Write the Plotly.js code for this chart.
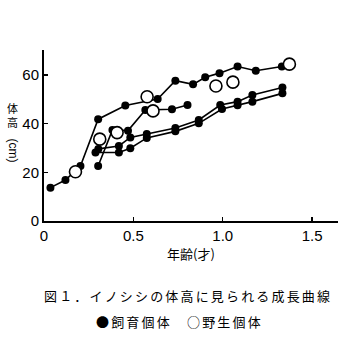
<!DOCTYPE html>
<html>
<head>
<meta charset="utf-8">
<script src="https://cdn.plot.ly/plotly-3.0.1.min.js"></script>
<style>html,body{margin:0;padding:0;background:#fff;}#chart{width:353px;height:360px;}</style>
</head>
<body>
<div id="chart"></div>
<script>
// Captive (飼育) individuals: four growth series
const seriesAAge = [0.036, 0.12, 0.204, 0.303, 0.455, 0.636, 0.735, 0.834, 0.902, 0.982, 1.083, 1.185, 1.331];
const seriesAHeight = [13.7, 16.8, 22.6, 41.8, 47.4, 50.1, 57.6, 56.1, 59.0, 60.7, 63.4, 61.7, 63.4];
const seriesBAge = [0.303, 0.383, 0.470, 0.567, 0.716, 0.803];
const seriesBHeight = [22.6, 37.4, 37.1, 45.6, 45.9, 47.6];
const seriesCAge = [0.304, 0.419, 0.483, 0.575, 0.735, 0.866, 0.986, 1.083, 1.166, 1.334];
const seriesCHeight = [29.6, 30.8, 34.3, 35.7, 38.2, 41.5, 47.6, 49.0, 51.7, 54.8];
const seriesDAge = [0.288, 0.419, 0.483, 0.575, 0.735, 0.866, 0.996, 1.083, 1.166, 1.334];
const seriesDHeight = [28.1, 28.1, 29.9, 34.1, 36.8, 40.1, 46.0, 47.5, 49.0, 52.4];
// Wild (野生) individuals
const wildAge = [0.176, 0.312, 0.409, 0.577, 0.610, 0.962, 1.057, 1.373];
const wildHeight = [20.2, 33.6, 36.3, 51.0, 45.2, 55.4, 57.0, 64.4];
// Ticks
const xTickVals = [0, 0.5, 1.0, 1.5];
const xTickText = ['0', '0.5', '1.0', '1.5'];
const yTickVals = [0, 20, 40, 60];
const yTickText = ['0', '20', '40', '60'];

const captive = [[seriesAAge, seriesAHeight], [seriesBAge, seriesBHeight], [seriesCAge, seriesCHeight], [seriesDAge, seriesDHeight]];
const traces = captive.map(([x, y]) => ({
  x: x, y: y, type: 'scatter', mode: 'lines+markers',
  line: {color: '#000', width: 1.6},
  marker: {color: '#000', size: 8},
  showlegend: false, hoverinfo: 'skip'
}));
traces.push({
  x: wildAge, y: wildHeight, type: 'scatter', mode: 'markers',
  marker: {color: '#fff', size: 12, line: {color: '#000', width: 1.6}},
  showlegend: false, hoverinfo: 'skip'
});

const tickFont = {family: '"Liberation Sans Narrow", "Liberation Sans", Arial, sans-serif', size: 15, color: '#000'};
const cjk = '"Noto Sans CJK JP", "Noto Sans", sans-serif';
const sp = '\u2006';
const caption1 = '図１．イノシシの体高に見られる成長曲線'.split('').join(sp);
const caption2 = '●飼育個体　○野生個体'.split('').join(sp);

const layout = {
  width: 353, height: 360,
  margin: {l: 44, r: 15, t: 50, b: 139},
  paper_bgcolor: '#fff', plot_bgcolor: '#fff',
  xaxis: {
    range: [0, 1.645], showgrid: false, zeroline: false,
    showline: true, linecolor: '#000', linewidth: 2,
    ticks: 'inside', ticklen: 4, tickwidth: 1.5, tickcolor: '#000',
    tickvals: xTickVals, ticktext: xTickText, tickfont: tickFont,
    title: {text: '年齢(才)', font: {family: cjk, size: 13, color: '#000'}, standoff: 4}
  },
  yaxis: {
    range: [0, 70.2], showgrid: false, zeroline: false,
    showline: true, linecolor: '#000', linewidth: 2,
    ticks: 'inside', ticklen: 4, tickwidth: 1.5, tickcolor: '#000',
    tickvals: yTickVals, ticktext: yTickText, tickfont: tickFont
  },
  annotations: [
    {text: '体<br>高', xref: 'paper', yref: 'paper', x: -0.107, y: 0.715, xanchor: 'center', yanchor: 'top',
     borderpad: 0, showarrow: false, font: {family: cjk, size: 11, color: '#000'}},
    {text: '(cm)', xref: 'paper', yref: 'paper', x: -0.107, y: 0.415, xanchor: 'center', yanchor: 'middle',
     borderpad: 0, textangle: 90, showarrow: false, font: {family: '"Liberation Sans", sans-serif', size: 12, color: '#000'}},
    {text: caption1, xref: 'paper', yref: 'paper', x: 0.485, y: -0.433, xanchor: 'center', yanchor: 'middle',
     showarrow: false, font: {family: cjk, size: 13, color: '#000'}},
    {text: caption2, xref: 'paper', yref: 'paper', x: 0.459, y: -0.59, xanchor: 'center', yanchor: 'middle',
     showarrow: false, font: {family: cjk, size: 13, color: '#000'}}
  ]
};

Plotly.newPlot('chart', traces, layout, {staticPlot: true, displayModeBar: false});
</script>
</body>
</html>
